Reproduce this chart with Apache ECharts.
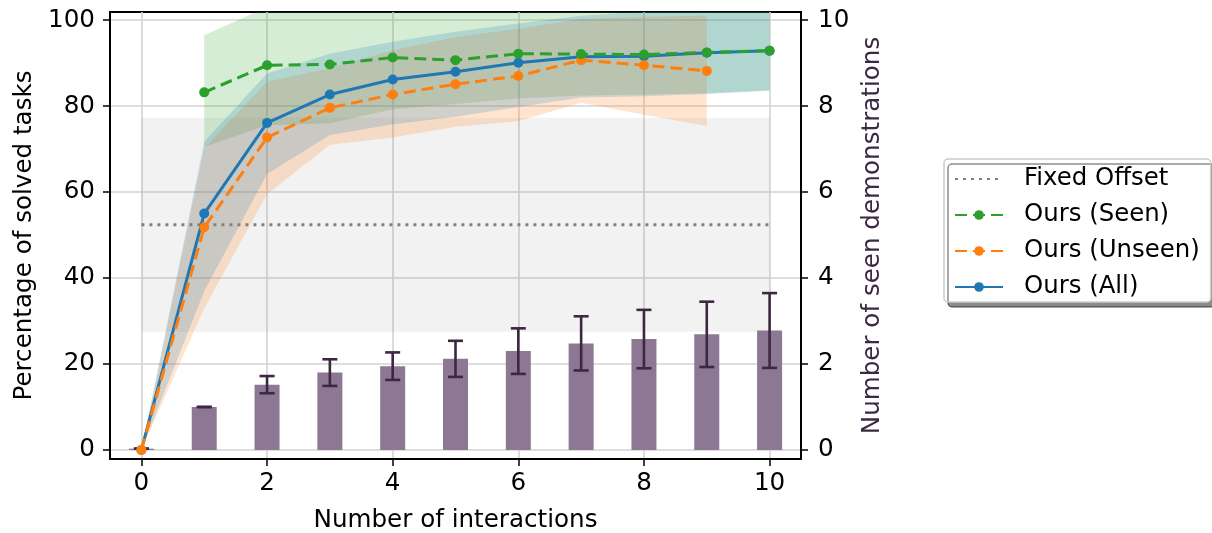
<!DOCTYPE html>
<html><head><meta charset="utf-8">
<script src="https://cdn.jsdelivr.net/npm/echarts@6/dist/echarts.min.js"></script>
<style>html,body{margin:0;padding:0;background:#fff}#c{width:1212px;height:533px}</style>
</head><body><div id="c"></div>
<script>
// ---- data ----
const interactions = [0, 1, 2, 3, 4, 5, 6, 7, 8, 9, 10];
const xTicks = [0, 2, 4, 6, 8, 10];
const yTicksLeft = [0, 20, 40, 60, 80, 100];
const yTicksRight = [0, 2, 4, 6, 8, 10];

const allMean  = [0, 55.0, 76.1, 82.7, 86.2, 88.0, 90.1, 91.5, 91.6, 92.4, 92.9];
const allUpper = [0, 71.7, 87.6, 92.2, 95.0, 97.3, 99.2, 101.0, 102.0, 103.0, 104.0];
const allLower = [0, 37.0, 64.2, 73.3, 75.8, 77.5, 79.8, 82.0, 82.3, 82.8, 83.6];

const seenX     = [1, 2, 3, 4, 5, 6, 7, 8, 9, 10];
const seenMean  = [83.2, 89.5, 89.7, 91.3, 90.7, 92.2, 92.1, 92.0, 92.5, 92.9];
const seenUpper = [96.5, 103, 104, 104, 104, 104, 104, 104, 104, 104];
const seenLower = [70.5, 75.6, 76.0, 79.3, 80.5, 81.8, 82.5, 82.7, 83.0, 83.7];

const unseenX     = [0, 1, 2, 3, 4, 5, 6, 7, 8, 9];
const unseenMean  = [0, 51.8, 72.7, 79.6, 82.7, 85.1, 87.0, 90.7, 89.5, 88.2];
const unseenUpper = [0, 70.2, 85.7, 88.8, 93.0, 96.0, 98.0, 100.3, 100.8, 101.0];
const unseenLower = [0, 33.0, 59.5, 71.0, 72.7, 75.2, 76.5, 80.8, 78.0, 75.4];

const fixedOffsetX = [0, 10];
const fixedOffsetMean = 52.4;
const fixedOffsetLow = 27.5;
const fixedOffsetHigh = 77.3;

const demoMean = [0.03, 1.0, 1.52, 1.8, 1.95, 2.12, 2.3, 2.48, 2.58, 2.69, 2.78];
const demoErr  = [0, 0, 0.2, 0.31, 0.32, 0.42, 0.53, 0.63, 0.68, 0.76, 0.87];

// ---- chart ----
const FONT = 'DejaVu Sans';
const FS = 24.6;
const chart = echarts.init(document.getElementById('c'), null, {renderer: 'canvas'});

function band(name, xs, lo, hi, fill, z) {
  return {
    type: 'custom', name: name, silent: true, clip: true, z: z,
    data: [[xs[0], lo[0]]],
    encode: {x: 0, y: 1},
    renderItem: function (params, api) {
      const pts = [];
      for (let i = 0; i < xs.length; i++) pts.push(api.coord([xs[i], hi[i]]));
      for (let i = xs.length - 1; i >= 0; i--) pts.push(api.coord([xs[i], lo[i]]));
      return {type: 'polygon', shape: {points: pts}, style: {fill: fill}};
    }
  };
}

const errColor = '#3c2843';
const option = {
  animation: false,
  textStyle: {fontFamily: FONT},
  grid: {left: 110, right: 411, top: 12, bottom: 74, show: true, borderColor: '#000', borderWidth: 2,
    backgroundColor: 'transparent', containLabel: false, outerBoundsMode: 'none'},
  legend: {
    data: [
      {name: 'Fixed Offset', itemStyle: {color: 'rgba(0,0,0,0)', borderWidth: 0}},
      'Ours (Seen)', 'Ours (Unseen)', 'Ours (All)'
    ],
    orient: 'vertical', left: 944, top: 159,
    itemWidth: 48, itemHeight: 12, itemGap: 8,
    padding: [6, 11, 1, 10],
    backgroundColor: '#fff', borderColor: '#cccccc', borderWidth: 1.5, borderRadius: 4,
    shadowColor: 'rgba(0,0,0,0.45)', shadowOffsetX: 4, shadowOffsetY: 5, shadowBlur: 0,
    textStyle: {fontSize: 24.4, color: '#000', fontFamily: FONT, lineHeight: 28, padding: [0, 0, 0, 16]},
    selectedMode: false
  },
  xAxis: {
    type: 'value', min: -0.5, max: 10.5,
    name: 'Number of interactions', nameLocation: 'middle', nameGap: 49,
    nameTextStyle: {fontSize: FS, color: '#000', fontFamily: FONT},
    axisLine: {show: true, onZero: false, lineStyle: {color: '#000', width: 2}},
    axisTick: {show: true, customValues: xTicks, length: 7, lineStyle: {color: '#000', width: 1.5}},
    axisLabel: {customValues: xTicks, fontSize: FS, color: '#000', margin: 12, fontFamily: FONT},
    splitLine: {show: true, lineStyle: {color: '#d3d3d3', width: 1.6}}
  },
  yAxis: [{
    type: 'value', min: -2.1, max: 101.9, position: 'left',
    name: 'Percentage of solved tasks', nameLocation: 'middle', nameGap: 72, nameRotate: 90,
    nameTextStyle: {fontSize: FS, color: '#000', fontFamily: FONT},
    axisLine: {show: true, onZero: false, lineStyle: {color: '#000', width: 2}},
    axisTick: {show: true, customValues: yTicksLeft, length: 7, lineStyle: {color: '#000', width: 1.5}},
    axisLabel: {customValues: yTicksLeft, fontSize: FS, color: '#000', margin: 15, fontFamily: FONT},
    splitLine: {show: true, lineStyle: {color: '#d3d3d3', width: 1.6}}
  }, {
    type: 'value', min: -0.21, max: 10.19, position: 'right',
    name: 'Number of seen demonstrations', nameLocation: 'middle', nameGap: 58, nameRotate: 90,
    nameTextStyle: {fontSize: FS, color: '#3c2843', fontFamily: FONT},
    axisLine: {show: true, onZero: false, lineStyle: {color: '#000', width: 2}},
    axisTick: {show: true, customValues: yTicksRight, length: 7, lineStyle: {color: '#000', width: 1.5}},
    axisLabel: {customValues: yTicksRight, fontSize: FS, color: '#000', margin: 17, fontFamily: FONT},
    splitLine: {show: false}
  }],
  series: [
    {
      type: 'custom', name: 'fixedBand', silent: true, clip: true, z: 1,
      data: [[fixedOffsetX[0], fixedOffsetLow, fixedOffsetX[1], fixedOffsetHigh]],
      encode: {x: [0, 2], y: [1, 3]},
      renderItem: function (params, api) {
        const a = api.coord([api.value(0), api.value(3)]);
        const b = api.coord([api.value(2), api.value(1)]);
        return {type: 'rect', shape: {x: a[0], y: a[1], width: b[0] - a[0], height: b[1] - a[1]},
          style: {fill: 'rgba(128,128,128,0.1)'}};
      }
    },
    band('bandSeen', seenX, seenLower, seenUpper, 'rgba(44,160,44,0.2)', 2),
    band('bandUnseen', unseenX, unseenLower, unseenUpper, 'rgba(255,127,14,0.2)', 2),
    band('bandAll', interactions, allLower, allUpper, 'rgba(31,119,180,0.2)', 2),
    {
      type: 'bar', name: 'demos', yAxisIndex: 1, z: 3, barWidth: 25, silent: true,
      data: interactions.map((x, i) => [x, demoMean[i]]),
      itemStyle: {color: '#8d7893'}
    },
    {
      type: 'custom', name: 'demoErr', yAxisIndex: 1, z: 4, silent: true,
      data: interactions.map((x, i) => [x, demoMean[i] - demoErr[i], demoMean[i] + demoErr[i]]),
      encode: {x: 0, y: [1, 2]},
      renderItem: function (params, api) {
        const x = api.value(0);
        const p1 = api.coord([x, api.value(1)]);
        const p2 = api.coord([x, api.value(2)]);
        const hw = 7.5;
        const st = {stroke: errColor, lineWidth: 2.6};
        return {type: 'group', children: [
          {type: 'line', shape: {x1: p1[0], y1: p1[1], x2: p2[0], y2: p2[1]}, style: st},
          {type: 'line', shape: {x1: p1[0] - hw, y1: p1[1], x2: p1[0] + hw, y2: p1[1]}, style: st},
          {type: 'line', shape: {x1: p2[0] - hw, y1: p2[1], x2: p2[0] + hw, y2: p2[1]}, style: st}
        ]};
      }
    },
    {
      type: 'line', name: 'Fixed Offset', z: 5, symbol: 'none', silent: true,
      data: fixedOffsetX.map(x => [x, fixedOffsetMean]),
      lineStyle: {color: '#808080', width: 3, type: [3, 5]},
      itemStyle: {color: '#808080'}
    },
    {
      type: 'line', name: 'Ours (All)', z: 6, symbol: 'circle', symbolSize: 10, silent: true,
      data: interactions.map((x, i) => [x, allMean[i]]),
      lineStyle: {color: '#1f77b4', width: 3},
      itemStyle: {color: '#1f77b4'}
    },
    {
      type: 'line', name: 'Ours (Unseen)', z: 7, symbol: 'circle', symbolSize: 10, silent: true,
      data: unseenX.map((x, i) => [x, unseenMean[i]]),
      lineStyle: {color: '#ff7f0e', width: 3, type: [12, 6]},
      itemStyle: {color: '#ff7f0e'}
    },
    {
      type: 'line', name: 'Ours (Seen)', z: 8, symbol: 'circle', symbolSize: 10, silent: true,
      data: seenX.map((x, i) => [x, seenMean[i]]),
      lineStyle: {color: '#2ca02c', width: 3, type: [12, 6]},
      itemStyle: {color: '#2ca02c'}
    }
  ]
};
chart.setOption(option);
</script>
</body></html>
